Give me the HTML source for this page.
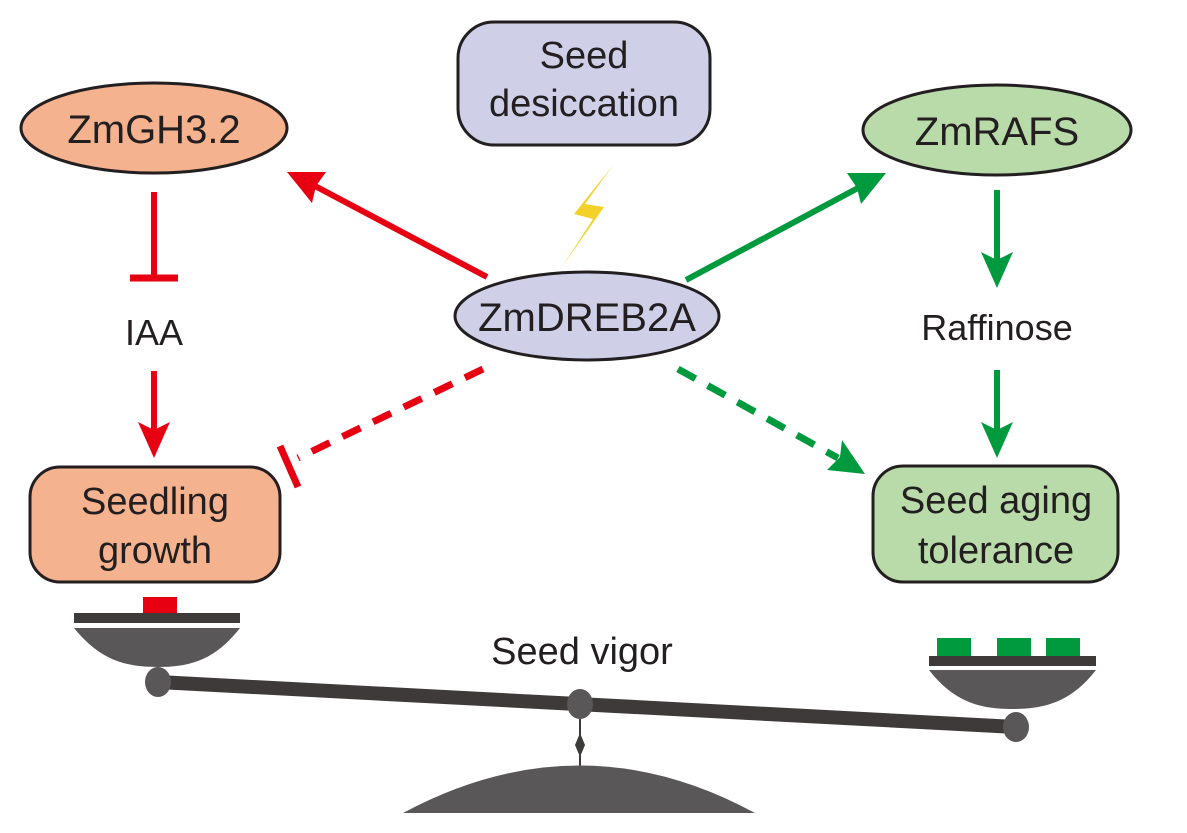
<!DOCTYPE html>
<html><head><meta charset="utf-8"><style>
html,body{margin:0;padding:0;background:#fff;}
svg{display:block;}
text{font-family:"Liberation Sans",Arial,sans-serif;fill:#231f20;text-anchor:middle;}
</style></head><body>
<svg width="1187" height="833" viewBox="0 0 1187 833" xmlns="http://www.w3.org/2000/svg">
<ellipse cx="154" cy="128" rx="133" ry="45" fill="#f4b28f" stroke="#231f20" stroke-width="3"/>
<text x="154" y="143" font-size="40">ZmGH3.2</text>
<rect x="458" y="22" width="252" height="123" rx="36" fill="#d0cfe8" stroke="#231f20" stroke-width="3"/>
<text x="584" y="68" font-size="38">Seed</text>
<text x="584" y="116" font-size="38">desiccation</text>
<ellipse cx="997" cy="130" rx="134" ry="45" fill="#b8dba9" stroke="#231f20" stroke-width="3"/>
<text x="997" y="145" font-size="40">ZmRAFS</text>
<ellipse cx="587" cy="316" rx="132" ry="44" fill="#d0cfe8" stroke="#231f20" stroke-width="3"/>
<text x="587" y="331" font-size="40">ZmDREB2A</text>
<rect x="30" y="467" width="250" height="115" rx="30" fill="#f4b28f" stroke="#231f20" stroke-width="3"/>
<text x="155" y="514" font-size="38">Seedling</text>
<text x="155" y="563" font-size="38">growth</text>
<rect x="873" y="466" width="245" height="116" rx="30" fill="#b8dba9" stroke="#231f20" stroke-width="3"/>
<text x="996" y="513" font-size="38">Seed aging</text>
<text x="996" y="563" font-size="38">tolerance</text>
<text x="154" y="345" font-size="36">IAA</text>
<text x="997" y="340" font-size="36">Raffinose</text>
<text x="582" y="664" font-size="38">Seed vigor</text>

<polygon points="613,165 574,214 593,219 562,267 604,207 585,204" fill="#f3d12a"/>

<line x1="154" y1="192" x2="154" y2="278" stroke="#e60012" stroke-width="6"/>
<line x1="130" y1="278" x2="178" y2="278" stroke="#e60012" stroke-width="7"/>
<line x1="154" y1="371" x2="154" y2="430" stroke="#e60012" stroke-width="6"/>
<polygon points="138,422 154,458 170,422 154,430" fill="#e60012"/>

<line x1="487" y1="277" x2="315" y2="186" stroke="#e60012" stroke-width="6"/>
<polygon points="287,172 326,172 316,186 312,203" fill="#e60012"/>

<line x1="686" y1="280" x2="858" y2="188" stroke="#009a3e" stroke-width="6"/>
<polygon points="886,173 847,173 857,188 861,204" fill="#009a3e"/>

<line x1="997" y1="190" x2="997" y2="260" stroke="#009a3e" stroke-width="6"/>
<polygon points="981,252 997,288 1013,252 997,260" fill="#009a3e"/>
<line x1="997" y1="370" x2="997" y2="430" stroke="#009a3e" stroke-width="6"/>
<polygon points="981,422 997,458 1013,422 997,430" fill="#009a3e"/>

<line x1="483" y1="369" x2="298" y2="458" stroke="#e60012" stroke-width="7" stroke-dasharray="20,14"/>
<line x1="280" y1="446" x2="298" y2="487" stroke="#e60012" stroke-width="7"/>

<line x1="678" y1="369" x2="838" y2="458" stroke="#009a3e" stroke-width="7" stroke-dasharray="20,14"/>
<polygon points="865,474 827,470 840,457 842,440" fill="#009a3e"/>

<rect x="143" y="597" width="34" height="17" fill="#e60012"/>
<rect x="74" y="613" width="166" height="10" fill="#3e3a39"/>
<path d="M74,628 L240,628 C215,660 190,667 158,667 C125,667 100,660 74,628 Z" fill="#595757"/>
<rect x="937" y="638" width="34" height="19" fill="#009a3e"/>
<rect x="997" y="638" width="34" height="19" fill="#009a3e"/>
<rect x="1046" y="638" width="34" height="19" fill="#009a3e"/>
<rect x="929" y="656" width="167" height="10" fill="#3e3a39"/>
<path d="M929,670 L1096,670 C1071,702 1045,709 1012,709 C980,709 954,702 929,670 Z" fill="#595757"/>
<line x1="158" y1="682" x2="1016" y2="727" stroke="#3e3a39" stroke-width="14"/>
<ellipse cx="158" cy="682" rx="13" ry="15" fill="#595757"/>
<ellipse cx="580" cy="704" rx="13" ry="15" fill="#595757"/>
<ellipse cx="1016" cy="727" rx="13" ry="15" fill="#595757"/>
<line x1="580" y1="719" x2="580" y2="766" stroke="#3e3a39" stroke-width="2"/>
<polygon points="580,733 585,745 580,757 575,745" fill="#3e3a39"/>
<path d="M403,813 Q580,718 755,813 Z" fill="#595757"/>
</svg>
</body></html>
